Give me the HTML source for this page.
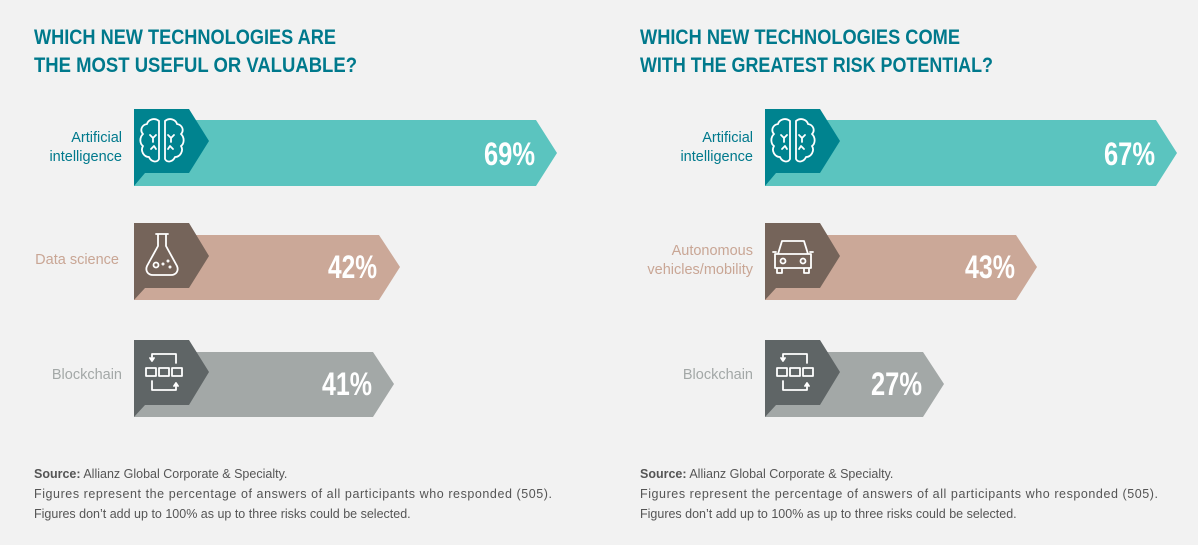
<!DOCTYPE html>
<html><head><meta charset="utf-8"><style>
html,body{margin:0;padding:0;background:#f2f2f2;}
svg{display:block;}
.t{font-family:"Liberation Sans",sans-serif;font-weight:bold;font-size:21px;fill:#00798c;}
.lb{font-family:"Liberation Sans",sans-serif;font-size:14.5px;text-anchor:end;}
.pc{font-family:"Liberation Sans",sans-serif;font-weight:bold;font-size:32px;fill:#fff;}
.ft{font-family:"Liberation Sans",sans-serif;font-size:12.5px;fill:#555;}
.ic{fill:none;stroke:#fff;stroke-width:1.8;stroke-linejoin:round;stroke-linecap:round;}
</style></head><body>
<svg width="1198" height="545" viewBox="0 0 1198 545" xmlns="http://www.w3.org/2000/svg">
<defs>
<g id="brain" class="ic">
  <path d="M-3,-20 C-8,-24 -14,-21 -15,-17 C-21,-16 -22,-10 -19,-7 C-23,-3 -22,3 -19,5 C-22,10 -18,16 -13,16 C-11,21 -5,22 -3,18 Z"/>
  <path d="M3,-20 C8,-24 14,-21 15,-17 C21,-16 22,-10 19,-7 C23,-3 22,3 19,5 C22,10 18,16 13,16 C11,21 5,22 3,18 Z"/>
  <path d="M-12,-6 l3,3 l3,-3 M-9,-3 v4 M-11,8 l3,-3 l2,3 M12,-6 l-3,3 l-3,-3 M9,-3 v4 M11,8 l-3,-3 l-2,3"/>
</g>
<g id="flask" class="ic">
  <path d="M-6,-22 h12 M-4,-22 v12 L-15,10 C-17,15 -14,19 -9,19 H9 C14,19 17,15 15,10 L4,-10 V-22"/>
  <circle cx="-6" cy="9" r="2.5"/><circle cx="1" cy="8" r="0.6"/><circle cx="6" cy="5" r="0.6"/><circle cx="8" cy="11" r="0.6"/>
</g>
<g id="block" class="ic">
  <path d="M-18,-4 h10 v8 h-10 Z M-5,-4 h10 v8 h-10 Z M8,-4 h10 v8 h-10 Z"/>
  <path d="M-12,-11 v-7 h24 v9 M-14,-14 l2,3 l2,-3"/>
  <path d="M-12,9 v9 h24 v-7 M10,14 l2,-3 l2,3"/>
</g>
<g id="car" class="ic">
  <path d="M-15,-2 L-11,-15 H11 L15,-2 M-18,-2 H18 V12 H-18 Z M-16,12 v5 h5 v-5 M11,12 v5 h5 v-5 M-20,-4 h3 M17,-4 h3"/>
  <circle cx="-10" cy="5" r="2.5"/><circle cx="10" cy="5" r="2.5"/>
</g>
</defs>

<text class="t" x="34" y="44" textLength="302" lengthAdjust="spacingAndGlyphs">WHICH NEW TECHNOLOGIES ARE</text>
<text class="t" x="34" y="72" textLength="323" lengthAdjust="spacingAndGlyphs">THE MOST USEFUL OR VALUABLE?</text>
<text class="t" x="640" y="44" textLength="320" lengthAdjust="spacingAndGlyphs">WHICH NEW TECHNOLOGIES COME</text>
<text class="t" x="640" y="72" textLength="353" lengthAdjust="spacingAndGlyphs">WITH THE GREATEST RISK POTENTIAL?</text>

<g>
  <path d="M134,120 H536 L557,153 L536,186 H134 Z" fill="#5bc4bf"/>
  <path d="M134,109 H189 L209,141 L189,173 H145 L134,186 Z" fill="#00838f"/>
  <use href="#brain" x="162" y="141"/>
  <text class="lb" x="122" y="142" fill="#00798c">Artificial</text>
  <text class="lb" x="122" y="161" fill="#00798c">intelligence</text>
  <text class="pc" x="484" y="165" textLength="51" lengthAdjust="spacingAndGlyphs">69%</text>

  <path d="M134,235 H379 L400,267 L379,300 H134 Z" fill="#cba898"/>
  <path d="M134,223 H189 L209,256 L189,288 H145 L134,300 Z" fill="#75645a"/>
  <use href="#flask" x="162" y="256"/>
  <text class="lb" x="119" y="264" fill="#c9a695">Data science</text>
  <text class="pc" x="328" y="278" textLength="49" lengthAdjust="spacingAndGlyphs">42%</text>

  <path d="M134,352 H373 L394,384 L373,417 H134 Z" fill="#a3a8a7"/>
  <path d="M134,340 H189 L209,372 L189,405 H145 L134,417 Z" fill="#5f6566"/>
  <use href="#block" x="164" y="372"/>
  <text class="lb" x="122" y="379" fill="#a3a8a7">Blockchain</text>
  <text class="pc" x="322" y="395" textLength="50" lengthAdjust="spacingAndGlyphs">41%</text>
</g>

<g transform="translate(631,0)">
  <path d="M134,120 H525 L546,153 L525,186 H134 Z" fill="#5bc4bf"/>
  <path d="M134,109 H189 L209,141 L189,173 H145 L134,186 Z" fill="#00838f"/>
  <use href="#brain" x="162" y="141"/>
  <text class="lb" x="122" y="142" fill="#00798c">Artificial</text>
  <text class="lb" x="122" y="161" fill="#00798c">intelligence</text>
  <text class="pc" x="473" y="165" textLength="51" lengthAdjust="spacingAndGlyphs">67%</text>

  <path d="M134,235 H385 L406,267 L385,300 H134 Z" fill="#cba898"/>
  <path d="M134,223 H189 L209,256 L189,288 H145 L134,300 Z" fill="#75645a"/>
  <use href="#car" x="162" y="256"/>
  <text class="lb" x="122" y="255" fill="#c9a695">Autonomous</text>
  <text class="lb" x="122" y="274" fill="#c9a695">vehicles/mobility</text>
  <text class="pc" x="334" y="278" textLength="50" lengthAdjust="spacingAndGlyphs">43%</text>

  <path d="M134,352 H292 L313,384 L292,417 H134 Z" fill="#a3a8a7"/>
  <path d="M134,340 H189 L209,372 L189,405 H145 L134,417 Z" fill="#5f6566"/>
  <use href="#block" x="164" y="372"/>
  <text class="lb" x="122" y="379" fill="#a3a8a7">Blockchain</text>
  <text class="pc" x="240" y="395" textLength="51" lengthAdjust="spacingAndGlyphs">27%</text>
</g>

<g class="ft">
  <text x="34" y="478"><tspan font-weight="bold">Source:</tspan> Allianz Global Corporate &amp; Specialty.</text>
  <text x="34" y="498" textLength="518" lengthAdjust="spacing">Figures represent the percentage of answers of all participants who responded (505).</text>
  <text x="34" y="518">Figures don’t add up to 100% as up to three risks could be selected.</text>
  <text x="640" y="478"><tspan font-weight="bold">Source:</tspan> Allianz Global Corporate &amp; Specialty.</text>
  <text x="640" y="498" textLength="518" lengthAdjust="spacing">Figures represent the percentage of answers of all participants who responded (505).</text>
  <text x="640" y="518">Figures don’t add up to 100% as up to three risks could be selected.</text>
</g>
</svg>
</body></html>
